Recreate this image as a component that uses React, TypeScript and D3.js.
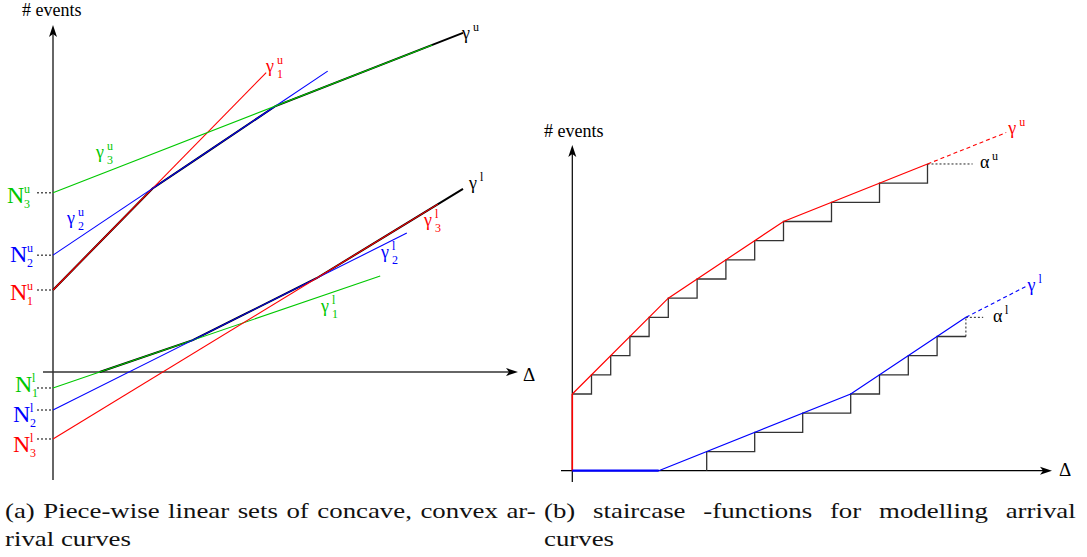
import React, { useLayoutEffect, useRef, useState } from 'react';
import * as d3 from 'd3';

// ---------- Panel (a): piece-wise linear bounds  v = N + s·Δ ----------
const upperIntercepts = [2.0, 2.85, 4.37];   // N1u, N2u, N3u
const upperSlopes = [1.02, 0.67, 0.39];
const upperEnds = [5.2, 6.7, 9.25];
const upperColors = ['#ff0000', '#0000ff', '#00c800'];

const lowerIntercepts = [-0.39, -0.927, -1.634]; // N1l, N2l, N3l
const lowerSlopes = [0.3425, 0.5, 0.61];
const lowerEnds = [7.98, 8.63, 9.39];
const lowerColors = ['#00c800', '#0000ff', '#ff0000'];

const envelopeEnd = 10;

// ---------- Panel (b): staircase arrival functions ----------
const upperStart = 4;
const upperStepTimes = [2, 4, 6, 8, 10, 13, 16, 19, 22, 27, 32, 37];
const upperHull: [number, number][] = [[0, 4], [10, 9], [22, 13], [37, 16]];
const upperHullTail: [number, number] = [45.2, 17.64];
const alphaUpperLeader = 4.7;

const lowerStepTimes = [14, 19, 24, 29, 32, 35, 38, 41];
const lowerHull: [number, number][] = [[0, 0], [9, 0], [29, 4], [41, 8]];
const lowerHullTail: [number, number] = [47.2, 9.6];
const alphaLowerLeader = 1.8;

const captionA = ['(a) Piece-wise linear sets of concave, convex ar-', 'rival curves'];
const captionB = ['(b) staircase -functions for modelling arrival', 'curves'];

const FONT = '"Liberation Serif", "Times New Roman", Times, serif';

// scales
const xL = d3.scaleLinear().domain([0, 10]).range([53, 463]);
const yL = d3.scaleLinear().domain([0, 10]).range([372, -38]);
const xR = d3.scaleLinear().domain([0, 10]).range([572.3, 668.3]);
const yR = d3.scaleLinear().domain([0, 10]).range([470.7, 279]);

const lineL = d3.line<[number, number]>().x(d => xL(d[0])).y(d => yL(d[1]));
const lineR = d3.line<[number, number]>().x(d => xR(d[0])).y(d => yR(d[1]));

function envelope(N: number[], S: number[], end: number, pick: 'min' | 'max'): [number, number][] {
  const ts = [0, end];
  for (let i = 0; i < N.length; i++)
    for (let j = i + 1; j < N.length; j++) {
      const t = (N[j] - N[i]) / (S[i] - S[j]);
      if (t > 0 && t < end) ts.push(t);
    }
  if (pick === 'max') {
    // the lower bound starts where it leaves the Δ axis
    const t0 = d3.min(N.map((n, i) => -n / S[i]))!;
    ts.push(t0);
  }
  ts.sort((a, b) => a - b);
  const pts = ts.map(t => {
    const vals = N.map((n, i) => n + S[i] * t);
    return [t, pick === 'min' ? d3.min(vals)! : d3.max(vals)!] as [number, number];
  });
  return pick === 'max' ? pts.filter(p => p[1] >= -1e-9) : pts;
}

function staircase(start: number, startTime: number, times: number[]): [number, number][] {
  const pts: [number, number][] = [[startTime, start]];
  let c = start;
  times.forEach(t => {
    pts.push([t, c]);
    c += 1;
    pts.push([t, c]);
  });
  return pts;
}

function Arrow({ x, y, dir }: { x: number; y: number; dir: 'up' | 'right' }) {
  const L = 12, H = 4, n = 3;
  const d = dir === 'up'
    ? `M${x},${y} L${x - H},${y + L} L${x},${y + L - n} L${x + H},${y + L} Z`
    : `M${x},${y} L${x - L},${y - H} L${x - L + n},${y} L${x - L},${y + H} Z`;
  return <path d={d} fill="#000" stroke="none" />;
}

function Sym({ x, y, base, sup, sub, color = '#000', size = 18, script = 12, w, gap = 3, supDy = 8, subDy = 5.5 }:
  { x: number; y: number; base: string; sup?: string; sub?: string; color?: string; size?: number; script?: number; w?: number; gap?: number; supDy?: number; subDy?: number }) {
  const bw = w ?? size * 0.45;
  return (
    <g fill={color}>
      <text x={x} y={y} fontSize={size}>{base}</text>
      {sup && <text x={x + bw + gap} y={y - supDy} fontSize={script}>{sup}</text>}
      {sub && <text x={x + bw + gap} y={y + subDy} fontSize={script}>{sub}</text>}
    </g>
  );
}

// caption widths on the page
const capA1W = 531, capA2W = 126, capB1W = 532;

export default function App() {
  const gammaU = envelope(upperIntercepts, upperSlopes, envelopeEnd, 'min');
  const gammaL = envelope(lowerIntercepts, lowerSlopes, envelopeEnd, 'max');

  const upperStairs = staircase(upperStart, 0, upperStepTimes);
  const lowerStairsAll = staircase(0, lowerStepTimes[0], lowerStepTimes.slice(0, -1));
  const lowerLast = lowerStepTimes[lowerStepTimes.length - 1];
  const lowerTop = lowerStepTimes.length;
  const lowerStairs: [number, number][] = [...lowerStairsAll.slice(1), [lowerLast, lowerTop - 1]];
  const upperTop = upperStart + upperStepTimes.length;
  const upperLast = upperStepTimes[upperStepTimes.length - 1];

  // caption measurement: glyph scale from the short line, justification by word spacing
  const capRefs = useRef<(SVGTextElement | null)[]>([]);
  const [nat, setNat] = useState<number[] | null>(null);
  useLayoutEffect(() => {
    setNat(capRefs.current.map(t => (t ? t.getComputedTextLength() : 0)));
  }, []);
  const r = nat ? capA2W / nat[1] : 1;
  const spaces = (s: string) => s.split(' ').length - 1;
  const wsA = nat ? (capA1W / r - nat[0]) / spaces(captionA[0]) : 0;
  const wsB = nat ? (capB1W / r - nat[2]) / spaces(captionB[0]) : 0;

  const nLabels = [
    { v: upperIntercepts[2], c: upperColors[2], sup: 'u', sub: '3', x: 7, dy: 10 },
    { v: upperIntercepts[1], c: upperColors[1], sup: 'u', sub: '2', x: 10, dy: 7 },
    { v: upperIntercepts[0], c: upperColors[0], sup: 'u', sub: '1', x: 10, dy: 10 },
    { v: lowerIntercepts[0], c: lowerColors[0], sup: 'l', sub: '1', x: 15, dy: 4 },
    { v: lowerIntercepts[1], c: lowerColors[1], sup: 'l', sub: '2', x: 13, dy: 12 },
    { v: lowerIntercepts[2], c: lowerColors[2], sup: 'l', sub: '3', x: 13, dy: 13 },
  ];

  return (
    <svg width={1087} height={557} style={{ position: 'absolute', left: 0, top: 0, background: '#fff', fontFamily: FONT }}>
      <rect width={1087} height={557} fill="#fff" />

      {/* ===== Panel (a) ===== */}
      <g>
        <line x1={xL(0)} y1={480} x2={xL(0)} y2={30} stroke="#333" strokeWidth={1.5} />
        <Arrow x={xL(0)} y={25} dir="up" />
        <line x1={43} y1={yL(0)} x2={512} y2={yL(0)} stroke="#333" strokeWidth={1.5} />
        <Arrow x={518} y={yL(0)} dir="right" />
        <text x={523} y={381} fontSize={19}>Δ</text>
        <text x={22} y={16} fontSize={18}>{'# events'}</text>

        {/* envelopes */}
        <path d={lineL(gammaU)!} fill="none" stroke="#000" strokeWidth={2} />
        <path d={lineL(gammaL)!} fill="none" stroke="#000" strokeWidth={2} />

        {/* individual bounds */}
        {upperIntercepts.map((n, i) => (
          <path key={'u' + i} d={lineL([[0, n], [upperEnds[i], n + upperSlopes[i] * upperEnds[i]]])!}
            fill="none" stroke={upperColors[i]} strokeWidth={1.1} />
        ))}
        {lowerIntercepts.map((n, i) => (
          <path key={'l' + i} d={lineL([[0, n], [lowerEnds[i], n + lowerSlopes[i] * lowerEnds[i]]])!}
            fill="none" stroke={lowerColors[i]} strokeWidth={1.1} />
        ))}

        {/* intercept markers */}
        {nLabels.map((l, i) => (
          <g key={'n' + i}>
            <line x1={37} x2={51} y1={yL(l.v)} y2={yL(l.v)} stroke="#000" strokeWidth={1} strokeDasharray="2,2" />
            <Sym x={l.x} y={yL(l.v) + l.dy} base="N" sup={l.sup} sub={l.sub} color={l.c}
              size={24} script={12} w={17} gap={0} supDy={10} subDy={5} />
          </g>
        ))}

        {/* curve labels */}
        <Sym x={266} y={72} base="γ" sup="u" sub="1" color={upperColors[0]} />
        <Sym x={67} y={224} base="γ" sup="u" sub="2" color={upperColors[1]} />
        <Sym x={96} y={158} base="γ" sup="u" sub="3" color={upperColors[2]} />
        <Sym x={462} y={39} base="γ" sup="u" />
        <Sym x={469} y={189} base="γ" sup="l" />
        <Sym x={424} y={226} base="γ" sup="l" sub="3" color={lowerColors[2]} />
        <Sym x={381} y={258} base="γ" sup="l" sub="2" color={lowerColors[1]} />
        <Sym x={321} y={312} base="γ" sup="l" sub="1" color={lowerColors[0]} />
      </g>

      {/* ===== Panel (b) ===== */}
      <g>
        <line x1={xR(0)} y1={482} x2={xR(0)} y2={150} stroke="#000" strokeWidth={1.2} />
        <Arrow x={xR(0)} y={145} dir="up" />
        <line x1={561} y1={yR(0)} x2={1046} y2={yR(0)} stroke="#000" strokeWidth={1.2} />
        <Arrow x={1052} y={yR(0)} dir="right" />
        <text x={1059} y={476} fontSize={19}>Δ</text>
        <text x={544} y={137} fontSize={18}>{'# events'}</text>

        {/* staircases */}
        <path d={lineR(upperStairs)!} fill="none" stroke="#333" strokeWidth={1.3} />
        <path d={lineR(lowerStairs)!} fill="none" stroke="#333" strokeWidth={1.3} />
        <path d={lineR([[lowerLast, lowerTop - 1], [lowerLast, lowerTop]])!} fill="none" stroke="#222"
          strokeWidth={1} strokeDasharray="2,2" />
        <path d={lineR([[upperLast, upperTop], [upperLast + alphaUpperLeader, upperTop]])!} fill="none"
          stroke="#222" strokeWidth={1} strokeDasharray="2,2" />
        <path d={lineR([[lowerLast, lowerTop], [lowerLast + alphaLowerLeader, lowerTop]])!} fill="none"
          stroke="#222" strokeWidth={1} strokeDasharray="2,2" />

        {/* hull curves */}
        <path d={lineR([[0, 0], [0, upperStart]])!} fill="none" stroke="#ff0000" strokeWidth={1.6} />
        <path d={lineR(upperHull)!} fill="none" stroke="#ff0000" strokeWidth={1.2} />
        <path d={lineR([upperHull[upperHull.length - 1], upperHullTail])!} fill="none" stroke="#ff0000"
          strokeWidth={1.1} strokeDasharray="4,3" />
        <path d={lineR(lowerHull.slice(0, 2))!} fill="none" stroke="#0000ff" strokeWidth={2.2} />
        <path d={lineR(lowerHull.slice(1))!} fill="none" stroke="#0000ff" strokeWidth={1.2} />
        <path d={lineR([lowerHull[lowerHull.length - 1], lowerHullTail])!} fill="none" stroke="#0000ff"
          strokeWidth={1.1} strokeDasharray="4,3" />

        <Sym x={xR(upperHullTail[0]) + 2} y={134} base="γ" sup="u" color="#ff0000" />
        <Sym x={xR(lowerHullTail[0]) + 2} y={291} base="γ" sup="l" color="#0000ff" />
        <Sym x={980} y={168} base="α" sup="u" w={11} gap={1} />
        <Sym x={993} y={322} base="α" sup="l" w={11} gap={1} />
      </g>

      {/* ===== captions ===== */}
      <g fontSize={22} fill="#111">
        <g transform={`translate(5,518) scale(${r},1)`}>
          <text ref={el => { capRefs.current[0] = el; }} x={0} y={0} wordSpacing={wsA}>{captionA[0]}</text>
        </g>
        <g transform={`translate(5,546) scale(${r},1)`}>
          <text ref={el => { capRefs.current[1] = el; }} x={0} y={0}>{captionA[1]}</text>
        </g>
        <g transform={`translate(544,518) scale(${r},1)`}>
          <text ref={el => { capRefs.current[2] = el; }} x={0} y={0} wordSpacing={wsB}>{captionB[0]}</text>
        </g>
        <g transform={`translate(544,546) scale(${r},1)`}>
          <text ref={el => { capRefs.current[3] = el; }} x={0} y={0}>{captionB[1]}</text>
        </g>
      </g>
    </svg>
  );
}
